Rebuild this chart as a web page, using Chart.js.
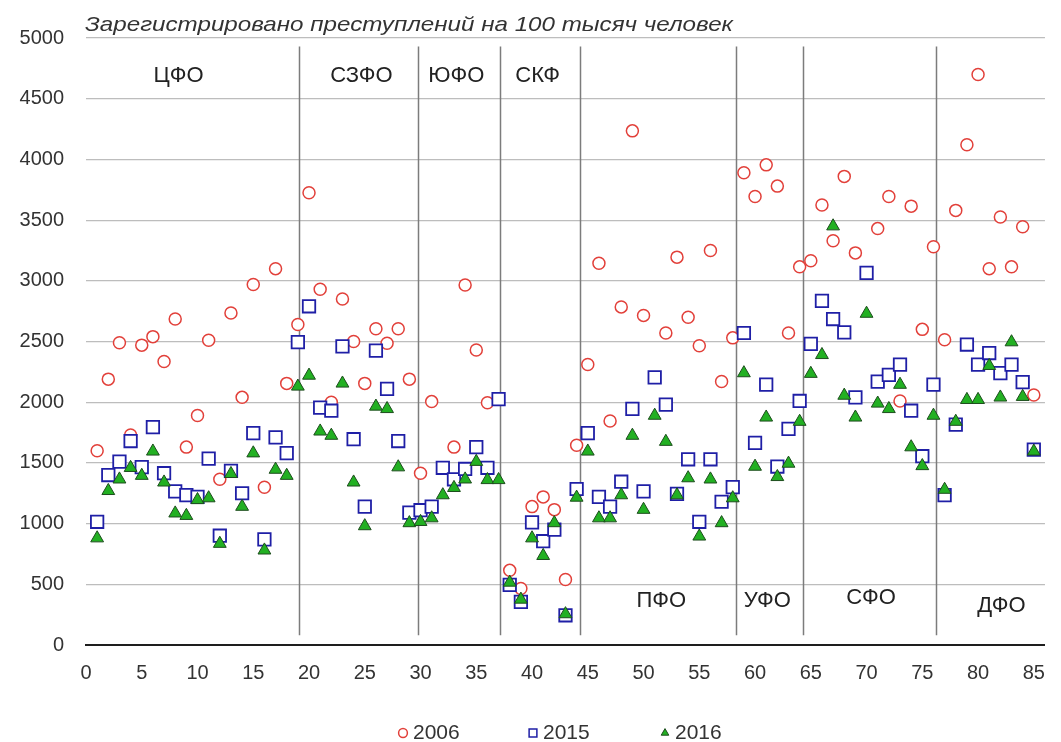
<!DOCTYPE html>
<html><head><meta charset="utf-8">
<script src="https://cdn.jsdelivr.net/npm/chart.js@4.4.0/dist/chart.umd.min.js"></script>
<style>html,body{margin:0;padding:0;background:#fff;}canvas{display:block}</style>
</head><body>
<canvas id="c" width="1061" height="742"></canvas>
<script>
const seriesNames = ['2006', '2015', '2016'];
const regionIndex = Array.from({length: 85}, (_, i) => i + 1);
const crime2006 = [1600,2190,2490,1730,2470,2540,2335,2685,1630,1890,
  2510,1365,2735,2040,2970,1300,3100,2155,2640,3725,
  2930,2000,2850,2500,2155,2605,2485,2605,2190,1415,
  2005,null,1630,2965,2430,1995,null,615,465,1140,
  1220,1115,540,1645,2310,3145,1845,2785,4235,2715,
  null,2570,3195,2700,2465,3250,2170,2530,3890,3695,
  3955,3780,2570,3115,3165,3625,3330,3860,3230,null,
  3430,3695,2010,3615,2600,3280,2515,3580,4120,4700,
  3100,3525,3115,3445,2060];
const crime2015 = [1015,1400,1510,1680,1465,1795,1415,1265,1235,1220,
  1535,900,1435,1250,1745,870,1710,1580,2495,2790,
  1955,1930,2460,1695,1140,2425,2110,1680,1090,1110,
  1140,1460,1365,1450,1630,1460,2025,495,355,1010,
  855,950,245,1285,1745,1220,1140,1345,1945,1265,
  2205,1980,1245,1530,1015,1530,1180,1300,2570,1665,
  2145,1470,1780,2010,2480,2835,2685,2575,2040,3065,
  2170,2225,2310,1930,1555,2145,1235,1815,2475,2310,
  2405,2240,2310,2165,1610];
const crime2016 = [880,1270,1365,1460,1395,1595,1340,1085,1065,1195,
  1210,835,1410,1140,1580,780,1445,1395,2130,2220,
  1760,1725,2155,1340,980,1965,1945,1465,1005,1015,
  1045,1235,1295,1365,1510,1360,1360,515,375,880,
  735,1005,255,1215,1595,1045,1045,1235,1725,1115,
  1890,1675,1235,1375,895,1365,1005,1210,2240,1470,
  1875,1385,1495,1840,2235,2390,3450,2055,1875,2730,
  1990,1945,2145,1630,1475,1890,1280,1840,2020,2020,
  2300,2040,2495,2045,1595];
const xTickValues = [0,5,10,15,20,25,30,35,40,45,50,55,60,65,70,75,80,85];
const yTickValues = [0,500,1000,1500,2000,2500,3000,3500,4000,4500,5000];
const districtNames = ['ЦФО','СЗФО','ЮФО','СКФ','ПФО','УФО','СФО','ДФО'];
const districtBounds = [19.06, 29.74, 37.17, 44.31, 58.29, 64.34, 76.22];
const districtLabelAnchors = [
  {x: 8.3, y: 4690}, {x: 24.7, y: 4690}, {x: 33.2, y: 4690}, {x: 40.5, y: 4690},
  {x: 51.6, y: 363}, {x: 61.1, y: 363}, {x: 70.4, y: 391}, {x: 82.1, y: 321}
];
const titleText = 'Зарегистрировано преступлений на 100 тысяч человек';

const FONT = '"Liberation Sans", Arial, sans-serif';
const styles = [
  {pointStyle: 'circle', radius: 6, border: '#e2403a', fill: '#ffffff', bw: 1.5},
  {pointStyle: 'rect', radius: 8.8, border: '#1f1fa6', fill: '#ffffff', bw: 1.8},
  {pointStyle: 'triangle', radius: 7.4, border: '#1d4d1d', fill: '#22b022', bw: 1}
];
const seriesValues = [crime2006, crime2015, crime2016];

const datasets = seriesValues.map((vals, k) => ({
  label: seriesNames[k],
  data: regionIndex.map((x, i) => ({x: x, y: vals[i]})),
  pointStyle: styles[k].pointStyle,
  pointRadius: styles[k].radius,
  pointBorderWidth: styles[k].bw,
  borderColor: styles[k].border,
  backgroundColor: styles[k].fill,
  pointBackgroundColor: styles[k].fill,
  pointBorderColor: styles[k].border,
  showLine: false,
  order: 3 - k
}));

const decor = {
  id: 'decor',
  beforeDatasetsDraw(chart) {
    const {ctx, scales: {x, y}} = chart;
    ctx.save();
    ctx.strokeStyle = '#7c7c7c';
    ctx.lineWidth = 1.5;
    districtBounds.forEach(b => {
      const px = Math.round(x.getPixelForValue(b)) + 0.5;
      ctx.beginPath();
      ctx.moveTo(px, y.getPixelForValue(4930));
      ctx.lineTo(px, y.getPixelForValue(80));
      ctx.stroke();
    });
    ctx.fillStyle = '#222';
    ctx.font = '22px ' + FONT;
    ctx.textAlign = 'center';
    ctx.textBaseline = 'middle';
    districtNames.forEach((n, i) => {
      ctx.fillText(n, x.getPixelForValue(districtLabelAnchors[i].x), y.getPixelForValue(districtLabelAnchors[i].y));
    });
    ctx.restore();
  },
  afterDraw(chart) {
    const ctx = chart.ctx;
    const area = chart.chartArea;
    ctx.save();
    ctx.font = 'italic 21px ' + FONT;
    ctx.fillStyle = '#333';
    ctx.textBaseline = 'alphabetic';
    const w = ctx.measureText(titleText).width;
    const target = 648;
    ctx.translate(area.left - 1, 31);
    ctx.scale(target / w, 1);
    ctx.fillText(titleText, 0, 0);
    ctx.restore();
    ctx.save();
    const markerX = [403, 533, 665];
    const ly = 733;
    ctx.font = '21px ' + FONT;
    ctx.textBaseline = 'middle';
    ctx.textAlign = 'left';
    seriesNames.forEach((name, k) => {
      const st = styles[k];
      ctx.strokeStyle = st.border;
      ctx.fillStyle = st.fill;
      ctx.lineWidth = k === 2 ? 1 : 1.5;
      Chart.helpers.drawPoint(ctx, {pointStyle: st.pointStyle, radius: k === 1 ? 5.5 : 4.4, borderWidth: ctx.lineWidth, rotation: 0}, markerX[k], ly);
      ctx.fillStyle = '#333';
      ctx.fillText(name, markerX[k] + 10, ly);
    });
    ctx.restore();
  }
};

new Chart(document.getElementById('c').getContext('2d'), {
  type: 'scatter',
  data: {datasets: datasets},
  options: {
    responsive: false,
    animation: false,
    devicePixelRatio: 1,
    layout: {autoPadding: false, padding: {left: 0, right: 5, top: 38, bottom: 47}},
    plugins: {legend: {display: false}, tooltip: {enabled: false}, title: {display: false}},
    scales: {
      x: {
        type: 'linear', min: 0, max: 86,
        afterBuildTicks: s => { s.ticks = xTickValues.map(v => ({value: v})); },
        grid: {display: false, drawTicks: false},
        border: {display: true, color: '#1e1e1e', width: 2},
        ticks: {padding: 16, color: '#333', font: {size: 20, family: FONT}, maxRotation: 0, autoSkip: false, callback: v => String(v)},
        afterFit: s => { s.height = 50; }
      },
      y: {
        type: 'linear', min: 0, max: 5000,
        afterBuildTicks: s => { s.ticks = yTickValues.map(v => ({value: v})); },
        grid: {color: '#bdbdbd', lineWidth: 1.2, drawTicks: false},
        border: {display: false},
        ticks: {padding: 22, color: '#333', font: {size: 20, family: FONT}, callback: v => String(v)},
        afterFit: s => { s.width = 86; }
      }
    }
  },
  plugins: [decor]
});
</script>
</body></html>
